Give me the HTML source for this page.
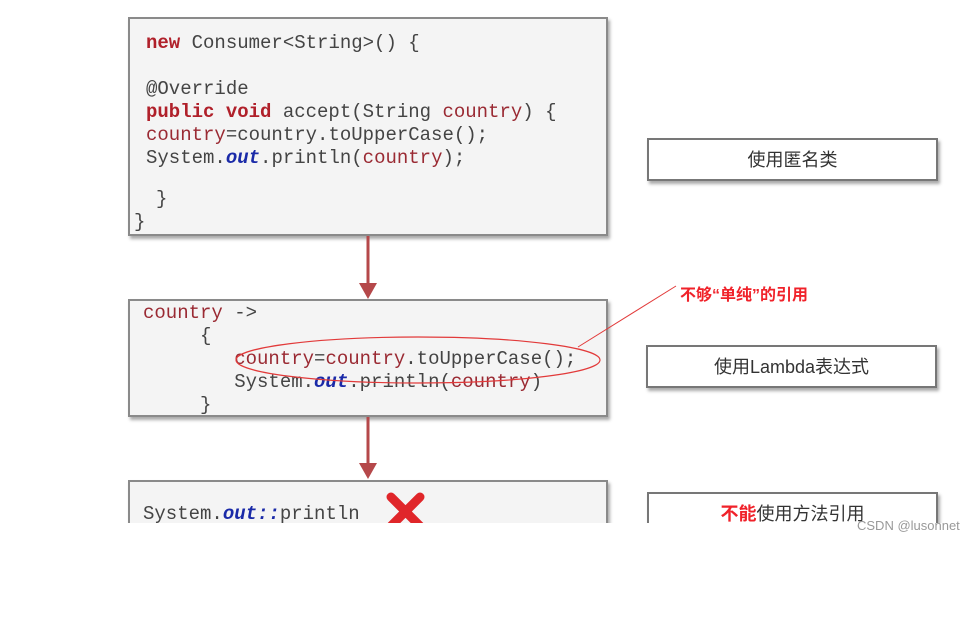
<!DOCTYPE html>
<html><head><meta charset="utf-8"><style>
body{margin:0;width:978px;height:542px;background:#fff;position:relative;overflow:hidden;font-family:"Liberation Sans","Noto Sans CJK SC",sans-serif}
.box{position:absolute;background:#f4f4f4;border:2px solid #8a8a8a;box-shadow:2px 3px 3px #aaa;box-sizing:border-box}
.rb{position:absolute;background:#fff;border:2px solid #777;box-shadow:2px 3px 3px #aaa;box-sizing:border-box;font-size:18px;color:#333;text-align:center}
.code{position:absolute;font-family:"Liberation Mono",monospace;font-size:19px;color:#444;white-space:pre;line-height:23px}
.k{color:#b0202a;font-weight:bold}.v{color:#9a2a33}.o{color:#1a2aa8;font-weight:bold;font-style:italic}
</style></head><body>
<div class="box" style="left:128px;top:17px;width:480px;height:219px"></div>
<div class="code" style="left:146px;top:32px"><span class="k">new</span> Consumer&lt;String&gt;() {

@Override
<span class="k">public void</span> accept(String <span class="v">country</span>) {
<span class="v">country</span>=country.toUpperCase();
System.<span class="o">out</span>.println(<span class="v">country</span>);
</div>
<div class="code" style="left:156px;top:188px">}</div>
<div class="code" style="left:134px;top:211px">}</div>

<div class="box" style="left:128px;top:299px;width:480px;height:118px"></div>
<div class="code" style="left:143px;top:302px"><span class="v">country</span> -&gt;
     {
        <span class="v">country</span>=<span class="v">country</span>.toUpperCase();
        System.<span class="o">out</span>.println(<span class="v">country</span>)
     }</div>

<div class="box" style="left:128px;top:480px;width:480px;height:80px"></div>
<div class="code" style="left:143px;top:503px">System.<span class="o">out::</span>println</div>

<svg style="position:absolute;left:0;top:0" width="978" height="542">
<g stroke="#b5484a" stroke-width="3" fill="#b5484a">
<line x1="368" y1="236" x2="368" y2="286"/><polygon points="359,283 377,283 368,299" stroke="none"/>
<line x1="368" y1="417" x2="368" y2="466"/><polygon points="359,463 377,463 368,479" stroke="none"/>
</g>
<ellipse cx="418" cy="360" rx="182" ry="23" fill="none" stroke="#e23a3a" stroke-width="1.2"/>
<line x1="578" y1="347" x2="676" y2="286" stroke="#e23a3a" stroke-width="1"/>
<g stroke="#e0262a" stroke-width="9" stroke-linecap="round"><line x1="391" y1="497" x2="420" y2="526"/><line x1="420" y1="497" x2="391" y2="526"/></g>
</svg>

<div style="position:absolute;left:680px;top:281px;color:#f0222a;font-weight:bold;font-size:16px">不够“单纯”的引用</div>

<div class="rb" style="left:647px;top:138px;width:291px;height:43px;line-height:40px">使用匿名类</div>
<div class="rb" style="left:646px;top:345px;width:291px;height:43px;line-height:40px">使用Lambda表达式</div>
<div class="rb" style="left:647px;top:492px;width:291px;height:60px;line-height:40px"><span style="color:#f0222a;font-weight:bold">不能</span>使用方法引用</div>

<div style="position:absolute;left:0;top:523px;width:978px;height:100px;background:#fff"></div>
<div style="position:absolute;left:857px;top:518px;font-size:13px;color:#999">CSDN @lusonnet</div>
</body></html>
